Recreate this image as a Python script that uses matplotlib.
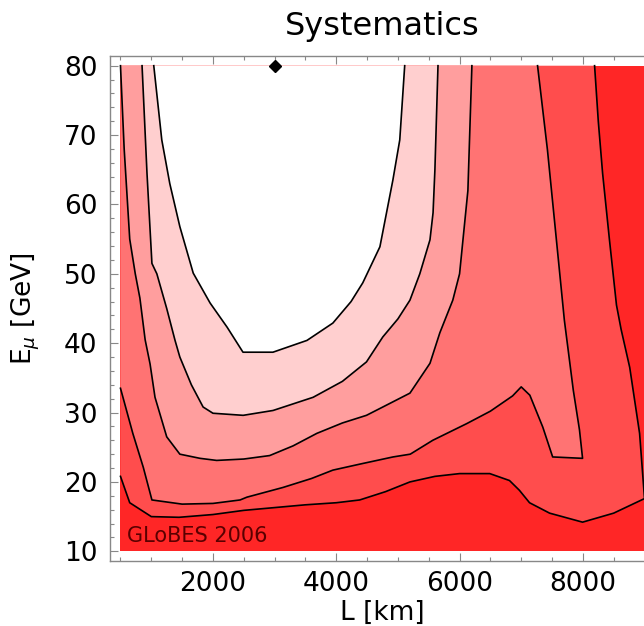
# -*- coding : utf8 -*-

import matplotlib
matplotlib.use('Agg')
import matplotlib.pyplot as plt
from matplotlib.ticker import MultipleLocator

plt.rcParams['font.family'] = ['DejaVu Sans']

# domain of the scan
L_range = [500, 9000]
E_range = [10, 80]

# contour lines (L in km, E in GeV)
# white / lightest
c0_L = [1040, 1170, 1300, 1463, 1680, 1953, 2230, 2487, 2973, 3525, 3945, 4240, 4430, 4708, 4918, 5030, 5110]
c0_E = [80, 69.3, 63.0, 56.8, 50.1, 45.8, 42.3, 38.7, 38.7, 40.4, 42.9, 46.0, 48.7, 53.9, 63.5, 69.3, 80]
# lightest / light
c1_L = [850, 930, 1010, 1090, 1250, 1385, 1463, 1650, 1840, 2000, 2490, 2975, 3625, 4100, 4490, 4755, 5000, 5195, 5355, 5520, 5570, 5600, 5650]
c1_E = [80, 64.5, 51.5, 50.0, 45.0, 40.4, 38.0, 34.0, 30.8, 29.9, 29.6, 30.3, 32.2, 34.5, 37.3, 40.9, 43.5, 46.2, 50.0, 54.9, 58.8, 65.0, 80]
# light / medium
c2_L = [500, 560, 650, 740, 815, 900, 980, 1060, 1250, 1463, 1790, 2060, 2500, 2920, 3300, 3685, 4100, 4490, 4755, 5195, 5520, 5680, 5890, 6000, 6135, 6200]
c2_E = [80, 68.0, 55.0, 50.0, 46.5, 40.5, 37.0, 32.2, 26.5, 24.0, 23.4, 23.1, 23.3, 23.8, 25.2, 27.0, 28.5, 29.6, 30.8, 32.8, 37.1, 41.5, 46.2, 50.0, 62.0, 80]
# medium / strong
c3_L = [500, 700, 870, 1010, 1500, 2000, 2440, 2550, 3135, 3600, 3945, 4400, 4920, 5200, 5565, 6115, 6500, 6860, 7000, 7140, 7350, 7510, 7995, 7945, 7845, 7700, 7555, 7425, 7265]
c3_E = [33.5, 27.0, 22.1, 17.4, 16.8, 16.9, 17.4, 17.8, 19.2, 20.5, 21.7, 22.6, 23.6, 24.0, 26.0, 28.4, 30.2, 32.4, 33.7, 32.5, 27.9, 23.6, 23.4, 27.5, 33.2, 43.3, 56.3, 67.9, 80]
# strong / darkest
c4_L = [500, 650, 1000, 1450, 2000, 2500, 3000, 3500, 4000, 4380, 4800, 5195, 5600, 6000, 6490, 6810, 6970, 7135, 7460, 7995, 8500, 9000,
        8920, 8760, 8620, 8545, 8430, 8320, 8250, 8190]
c4_E = [20.8, 17.0, 15.0, 14.9, 15.3, 15.9, 16.3, 16.7, 17.0, 17.4, 18.6, 20.0, 20.8, 21.2, 21.2, 20.2, 18.8, 17.0, 15.5, 14.2, 15.5, 17.6,
        27.0, 36.5, 42.0, 45.5, 55.0, 64.5, 72.0, 80]

colors = ['#ffffff', '#ffcfcf', '#ff9e9e', '#ff7373', '#ff4d4d', '#ff2626']

best_L = [3000]
best_E = [80]

fig = plt.figure(figsize=(6.44, 6.26), dpi=100)
ax = fig.add_axes([110 / 644, 65 / 626, 545 / 644, 505 / 626])

# darkest background over the whole scan
ax.fill([L_range[0], L_range[1], L_range[1], L_range[0]],
        [E_range[0], E_range[0], E_range[1], E_range[1]], color=colors[5], lw=0)

# regions above each contour, drawn from dark to light
ax.fill(c4_L + [L_range[0]], c4_E + [E_range[1]], color=colors[4], lw=0)
ax.fill(c3_L + [L_range[0]], c3_E + [E_range[1]], color=colors[3], lw=0)
ax.fill(c2_L, c2_E, color=colors[2], lw=0)
ax.fill(c1_L, c1_E, color=colors[1], lw=0)
ax.fill(c0_L, c0_E, color=colors[0], lw=0)

for cl, ce in [(c0_L, c0_E), (c1_L, c1_E), (c2_L, c2_E), (c3_L, c3_E), (c4_L, c4_E)]:
    ax.plot(cl, ce, color='black', lw=1.2, solid_joinstyle='round')

ax.plot(best_L, best_E, 'kD', ms=6, clip_on=False, zorder=5)

ax.text(600, 11.3, 'GLoBES 2006', fontsize=15, color='#5a0000', va='baseline')

ax.set_xlim(330, 9170)
ax.set_ylim(8.6, 81.4)
ax.xaxis.set_major_locator(MultipleLocator(2000))
ax.xaxis.set_minor_locator(MultipleLocator(500))
ax.yaxis.set_major_locator(MultipleLocator(10))
ax.yaxis.set_minor_locator(MultipleLocator(2))
ax.tick_params(which='both', direction='in', top=True, right=True, color='#888888', width=0.8)
ax.tick_params(which='major', length=6, labelsize=19, pad=9)
ax.tick_params(which='minor', length=3)
ax.tick_params(axis='x', pad=7)
for s in ax.spines.values():
    s.set_color('#888888')
    s.set_linewidth(1.0)

ax.set_title('Systematics', fontsize=23, pad=15)
ax.set_xlabel('L [km]', fontsize=19)
ax.set_ylabel(r'E$_\mu$ [GeV]', fontsize=19)
ax.xaxis.set_label_coords(0.5, -0.077)
ax.yaxis.set_label_coords(-0.125, 0.5)

plt.savefig('out.png', dpi=100)
